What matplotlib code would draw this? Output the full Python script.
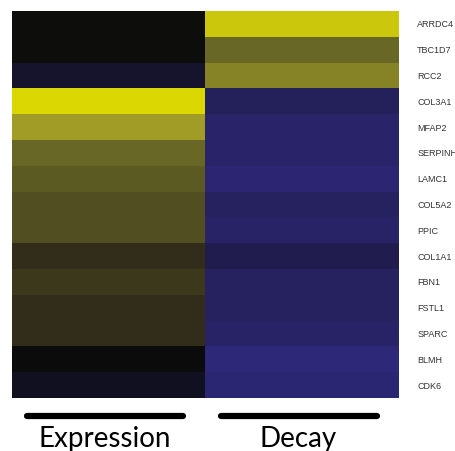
import numpy as np
import matplotlib
matplotlib.use("Agg")
import matplotlib.pyplot as plt
from matplotlib.colors import LinearSegmentedColormap
from matplotlib.lines import Line2D

genes = ["ARRDC4", "TBC1D7", "RCC2", "COL3A1", "MFAP2", "SERPINH1", "LAMC1",
         "COL5A2", "PPIC", "COL1A1", "FBN1", "FSTL1", "SPARC", "BLMH", "CDK6"]
columns = ["Expression", "Decay"]
expression = [0.02, 0.02, -0.32, 0.98, 0.75, 0.50, 0.45, 0.40, 0.40, 0.25, 0.30,
              0.25, 0.25, 0.00, -0.20]
decay = [0.92, 0.50, 0.64, -0.72, -0.87, -0.87, -0.95, -0.77, -0.83, -0.62,
         -0.77, -0.77, -0.83, -1.00, -0.93]

data = np.column_stack([expression, decay])

anchors = [(-1.0, "#2e2878"), (0.0, "#0b0b0b"), (0.25, "#302c1a"),
           (0.5, "#676626"), (0.75, "#a09b28"), (1.0, "#e0dc00")]
cmap = LinearSegmentedColormap.from_list(
    "byk", [((v + 1) / 2, c) for v, c in anchors])

W, H = 456, 451
fig = plt.figure(figsize=(W / 100, H / 100), dpi=100)
ax = fig.add_axes([12 / W, 1 - 398 / H, (399 - 12) / W, (398 - 11) / H])
ax.imshow(data, cmap=cmap, vmin=-1, vmax=1, aspect="auto",
          interpolation="nearest")
ax.set_xticks([])
ax.yaxis.tick_right()
ax.set_yticks(range(len(genes)))
ax.set_yticklabels(genes, fontsize=6.5, color="#333333", family="Liberation Sans")
ax.tick_params(axis="y", length=0, pad=13)
for s in ax.spines.values():
    s.set_visible(False)

# group bars and labels under columns
bar_y = 1 - 416 / H
for (x0, x1), label, xc in [((27, 183), columns[0], 105), ((221, 377), columns[1], 298)]:
    fig.add_artist(Line2D([x0 / W, x1 / W], [bar_y, bar_y], transform=fig.transFigure,
                          color="black", lw=4.5, solid_capstyle="round"))
    fig.text(xc / W, 1 - 447 / H, label, ha="center", va="baseline",
             fontsize=20, family="Lato", color="black")

fig.savefig("out.png", dpi=100)
